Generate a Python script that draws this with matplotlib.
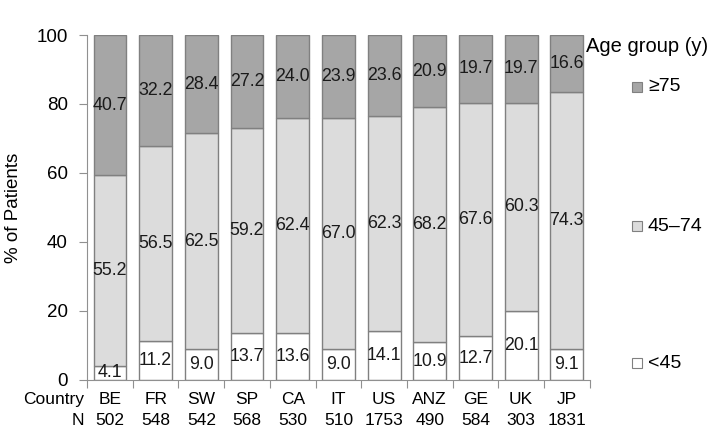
import numpy as np
import matplotlib.pyplot as plt
from matplotlib.patches import Rectangle

plt.rcParams['font.family'] = ['Liberation Sans', 'DejaVu Sans']

countries = ['BE', 'FR', 'SW', 'SP', 'CA', 'IT', 'US', 'ANZ', 'GE', 'UK', 'JP']
n_patients = [502, 548, 542, 568, 530, 510, 1753, 490, 584, 303, 1831]
under45 = [4.1, 11.2, 9.0, 13.7, 13.6, 9.0, 14.1, 10.9, 12.7, 20.1, 9.1]
age45_74 = [55.2, 56.5, 62.5, 59.2, 62.4, 67.0, 62.3, 68.2, 67.6, 60.3, 74.3]
over75 = [40.7, 32.2, 28.4, 27.2, 24.0, 23.9, 23.6, 20.9, 19.7, 19.7, 16.6]
groups = ['<45', '45\u201374', '\u226575']
colors = ['#ffffff', '#dcdcdc', '#a6a6a6']

fig = plt.figure(figsize=(7.2, 4.3), dpi=100)
ax = fig.add_axes([0.121, 0.1163, 0.698, 0.8023])

x = np.arange(len(countries))
lo = np.array(under45)
mid = np.array(age45_74)
hi = np.array(over75)
bottoms = [np.zeros(len(x)), lo, lo + mid]
series = [lo, mid, hi]
for vals, bot, col in zip(series, bottoms, colors):
    ax.bar(x, vals, bottom=bot, width=0.72, color=col, edgecolor='#808080', linewidth=1)
    for xi, v, b in zip(x, vals, bot):
        ax.text(xi, b + v / 2, '%.1f' % v, ha='center', va='center', fontsize=12.8, color='#1a1a1a')

ax.set_xlim(-0.5, len(x) - 0.5)
ax.set_ylim(0, 100)
ax.set_yticks(range(0, 101, 20))
ax.tick_params(axis='y', labelsize=13.5, length=6, color='#909090', pad=8)
ax.set_xticks(np.arange(-0.5, len(x), 1.0))
ax.set_xticklabels([])
ax.tick_params(axis='x', length=6, color='#909090', direction='out')
for s in ['top', 'right']:
    ax.spines[s].set_visible(False)
for s in ['left', 'bottom']:
    ax.spines[s].set_color('#909090')
ax.set_ylabel('% of Patients', fontsize=13.5, labelpad=10)

# country and N rows under the axis
trans = ax.get_xaxis_transform()
for xi, c, n in zip(x, countries, n_patients):
    ax.text(xi, -0.056, c, transform=trans, ha='center', va='center', fontsize=12.5, clip_on=False)
    ax.text(xi, -0.116, str(n), transform=trans, ha='center', va='center', fontsize=12.5, clip_on=False)
ax.text(-0.005, -0.056, 'Country', transform=ax.transAxes, ha='right', va='center', fontsize=12.5)
ax.text(-0.005, -0.116, 'N', transform=ax.transAxes, ha='right', va='center', fontsize=12.5)

# legend on the right
fig.text(0.814, 0.891, 'Age group (y)', fontsize=14.5, va='center', ha='left')
leg_y = [0.1558, 0.4744, 0.7977]
for gy, g, col in zip(leg_y, groups, colors):
    fig.patches.append(Rectangle((0.878, gy - 0.012), 0.0135, 0.024, transform=fig.transFigure,
                                 facecolor=col, edgecolor='#808080', linewidth=0.8))
    fig.text(0.9, gy, g, fontsize=14, va='center', ha='left')

fig.savefig('out.png', dpi=100)
